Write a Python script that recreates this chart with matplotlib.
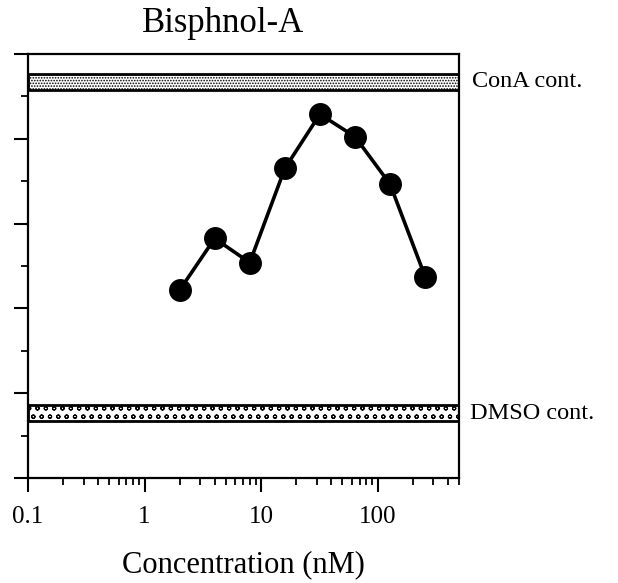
import numpy as np
import matplotlib
matplotlib.use("Agg")
import matplotlib.pyplot as plt
from matplotlib.ticker import LogLocator, FixedLocator, NullFormatter, FixedFormatter

plt.rcParams['font.family'] = ['Liberation Serif', 'DejaVu Serif']
plt.rcParams['hatch.linewidth'] = 0.8

# Bisphenol-A dose response (relative response, arbitrary units)
conc_nM = [2, 4, 8, 16, 32, 64, 128, 256]
response = [44.3, 56.5, 50.8, 73.0, 85.8, 80.5, 69.3, 47.5]

# control ranges (lower, upper)
cona_band = [91.5, 95.4]
dmso_band = [13.4, 17.2]
band_labels = ['ConA cont.', 'DMSO cont.']

x_ticks = [0.1, 1, 10, 100]
x_tick_labels = ['0.1', '1', '10', '100']

fig = plt.figure(figsize=(6.18, 5.83), dpi=100)
ax = fig.add_axes([28 / 618, 1 - 478 / 583, (459 - 28) / 618, (478 - 54) / 583])

# control bands
ax.axhspan(cona_band[0], cona_band[1], facecolor='white', edgecolor='black',
           hatch='......', linewidth=2.0)
ax.axhspan(dmso_band[0], dmso_band[1], facecolor='white', edgecolor='black',
           hatch='oo', linewidth=2.0)

ax.plot(conc_nM, response, color='black', linewidth=2.6, marker='o',
        markersize=15.5, markerfacecolor='black', markeredgecolor='black', zorder=5)

ax.set_xscale('log')
ax.set_xlim(0.1, 500)
ax.set_ylim(0, 100)

ax.xaxis.set_major_locator(FixedLocator(x_ticks))
ax.xaxis.set_major_formatter(FixedFormatter(x_tick_labels))
ax.xaxis.set_minor_locator(LogLocator(base=10, subs=np.arange(2, 10), numticks=20))
ax.xaxis.set_minor_formatter(NullFormatter())

ax.yaxis.set_major_locator(FixedLocator(np.arange(0, 101, 20)))
ax.yaxis.set_minor_locator(FixedLocator(np.arange(10, 100, 20)))
ax.set_yticklabels([])

ax.tick_params(which='major', direction='out', length=10, width=1.5, labelsize=18, pad=10)
ax.tick_params(which='minor', direction='out', length=5, width=1.3)
ax.tick_params(axis='both', top=False, right=False)
for side in ax.spines.values():
    side.set_linewidth(1.6)

ax.set_xlabel('Concentration (nM)', fontsize=22, labelpad=16)

# band labels to the right of the frame
ax.text(1.03, np.mean(cona_band) / 100, band_labels[0], transform=ax.transAxes,
        fontsize=17.5, va='center', ha='left')
ax.text(1.025, np.mean(dmso_band) / 100, band_labels[1], transform=ax.transAxes,
        fontsize=17.5, va='center', ha='left')

fig.text(223 / 618, 1 - 24 / 583, 'Bisphnol-A', fontsize=25, ha='center', va='center')

fig.savefig('out.png', dpi=100)
